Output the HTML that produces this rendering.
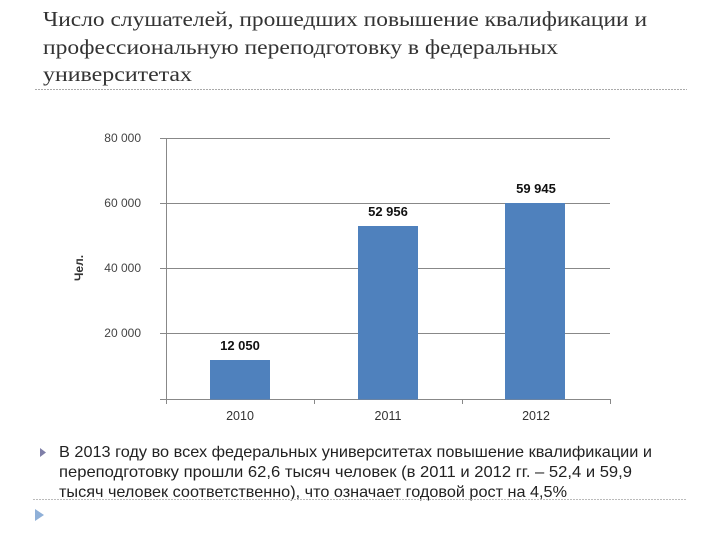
<!DOCTYPE html>
<html><head><meta charset="utf-8"><style>
html,body{margin:0;padding:0;background:#fff;}
svg{display:block;}
</style></head><body>
<svg width="720" height="540" xmlns="http://www.w3.org/2000/svg">
<g font-family="Liberation Serif, serif" font-size="21" fill="#333">
<text x="43" y="26" textLength="604" lengthAdjust="spacingAndGlyphs">Число слушателей, прошедших повышение квалификации и</text>
<text x="43" y="54" textLength="515" lengthAdjust="spacingAndGlyphs">профессиональную переподготовку в федеральных</text>
<text x="43" y="81" textLength="149" lengthAdjust="spacingAndGlyphs">университетах</text>
</g>
<line x1="35" y1="89.5" x2="687" y2="89.5" stroke="#aaa" stroke-dasharray="2,1"/>
<g stroke="#888" stroke-width="1">
<line x1="160" y1="138.5" x2="610" y2="138.5"/>
<line x1="160" y1="203.5" x2="610" y2="203.5"/>
<line x1="160" y1="268.5" x2="610" y2="268.5"/>
<line x1="160" y1="333.5" x2="610" y2="333.5"/>
<line x1="160" y1="399.5" x2="610" y2="399.5"/>
<line x1="166.5" y1="138" x2="166.5" y2="404"/>
<line x1="314.5" y1="399" x2="314.5" y2="404"/>
<line x1="462.5" y1="399" x2="462.5" y2="404"/>
<line x1="610.5" y1="399" x2="610.5" y2="404"/>
</g>
<g font-family="Liberation Sans, sans-serif" font-size="12" fill="#444" text-anchor="end">
<text x="141" y="142">80 000</text>
<text x="141" y="207">60 000</text>
<text x="141" y="272">40 000</text>
<text x="141" y="337">20 000</text>
</g>
<text transform="translate(83,268) rotate(-90)" text-anchor="middle" font-family="Liberation Sans, sans-serif" font-size="12" font-weight="bold" fill="#333">Чел.</text>
<g fill="#4f81bd">
<rect x="210" y="360" width="60" height="39.5"/>
<rect x="358" y="226" width="60" height="173.5"/>
<rect x="505" y="203" width="60" height="196.5"/>
</g>
<g font-family="Liberation Sans, sans-serif" font-size="13" font-weight="bold" fill="#111" text-anchor="middle">
<text x="240" y="350">12 050</text>
<text x="388" y="216">52 956</text>
<text x="536" y="193">59 945</text>
</g>
<g font-family="Liberation Sans, sans-serif" font-size="12.5" fill="#333" text-anchor="middle">
<text x="240" y="420">2010</text>
<text x="388" y="420">2011</text>
<text x="536" y="420">2012</text>
</g>
<polygon points="40,448 46,452.5 40,457" fill="#7f7fa8"/>
<g font-family="Liberation Sans, sans-serif" font-size="16" fill="#222">
<text x="59" y="457" textLength="593" lengthAdjust="spacingAndGlyphs">В 2013 году во всех федеральных университетах повышение квалификации и</text>
<text x="59" y="477" textLength="573" lengthAdjust="spacingAndGlyphs">переподготовку прошли 62,6 тысяч человек (в 2011 и  2012 гг. – 52,4 и 59,9</text>
<text x="59" y="497" textLength="508" lengthAdjust="spacingAndGlyphs">тысяч человек соответственно), что означает годовой рост на 4,5%</text>
</g>
<line x1="33" y1="499.5" x2="687" y2="499.5" stroke="#bbb" stroke-dasharray="2,1"/>
<polygon points="35,509 44,515 35,521" fill="#8fb0d8"/>
</svg>
</body></html>
